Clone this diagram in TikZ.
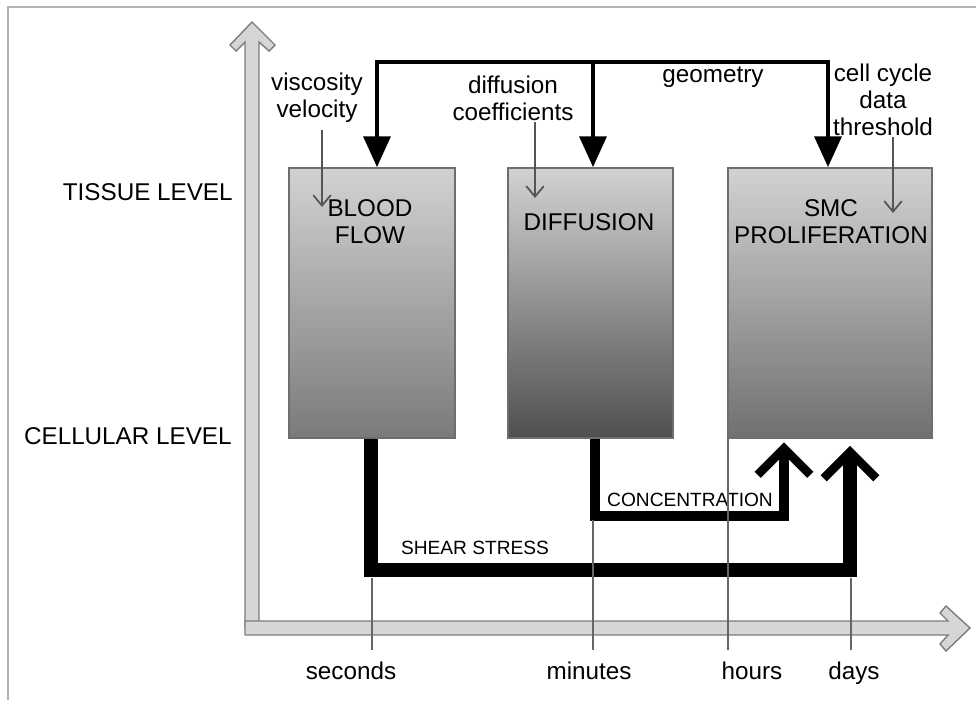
\documentclass[tikz,border=0pt]{standalone}
\usepackage{fontspec}
\setmainfont{Liberation Sans}
\usetikzlibrary{arrows.meta, positioning}

\definecolor{axisfill}{HTML}{D6D6D6}
\definecolor{axisline}{HTML}{7C7C7C}
\definecolor{boxline}{HTML}{6E6E6E}
\definecolor{boxtop}{HTML}{D2D2D2}
\definecolor{bloodbot}{HTML}{7A7A7A}
\definecolor{diffmid}{HTML}{767676}
\definecolor{diffbot}{HTML}{4F4F4F}
\definecolor{smcbot}{HTML}{707070}
\definecolor{ticks}{HTML}{666666}
\definecolor{hint}{HTML}{555555}

\tikzset{
  feedtip/.tip={Triangle[length=17.5pt,width=15pt]},
  barbtip/.tip={Straight Barb[length=15pt,width=30pt,line width=5pt]},
  hinttip/.tip={Straight Barb[length=6pt,width=10pt]},
  txt/.style={font={\fontsize{13.8}{15.5}\selectfont}, align=center, inner sep=0pt},
  smalltxt/.style={font={\fontsize{10.9}{13}\selectfont}, inner sep=0pt},
  proc/.style={draw=boxline, line width=0.9pt, minimum height=5.4cm, inner sep=0pt},
  feed/.style={line width=2.8pt},
  flux/.style={line width=#1, -barbtip},
  hintline/.style={draw=hint, line width=1pt, -hinttip},
  tick/.style={draw=ticks, line width=0.9pt}
}

\begin{document}
\begin{tikzpicture}[x=0.02cm, y=-0.02cm]
\useasboundingbox (0,0) rectangle (976,700);
\draw[gray!60, line width=0.6pt] (8,700) -- (8,7) -- (976,7);

% level and time axes
\draw[fill=axisfill, draw=axisline, line width=0.8pt, line join=miter]
  (245,628) -- (245,42) -- (236,51) -- (230,45) -- (252,22) -- (275,45)
  -- (269,51) -- (259,42) -- (259,628) -- cycle;
\draw[fill=axisfill, draw=axisline, line width=0.8pt, line join=miter]
  (245,621) -- (948,621) -- (940,613) -- (946,606) -- (970,628) -- (946,651)
  -- (940,644) -- (948,635) -- (245,635) -- cycle;
\node[txt, anchor=east] (tissue) at (233,192) {TISSUE LEVEL};
\node[txt, anchor=east] (cellular) at (232,436) {CELLULAR LEVEL};

% the three models
\node[proc, minimum width=3.32cm, top color=boxtop, bottom color=bloodbot]
  (blood) at (372,303) {};
\node[proc, minimum width=3.3cm, top color=boxtop, middle color=diffmid, bottom color=diffbot]
  (diff) at (590.5,303) {};
\node[proc, minimum width=4.08cm, top color=boxtop, bottom color=smcbot]
  (smc) at (830,303) {};
\node[txt] (bloodtxt) at (370,222) {BLOOD\\FLOW};
\node[txt] (difftxt) at (589,222) {DIFFUSION};
\node[txt] (smctxt) at (831,222) {SMC\\PROLIFERATION};

% geometry fed to every model
\coordinate (gb) at (377,62);
\coordinate (gd) at (593,62);
\coordinate (gs) at (828,62);
\draw[feed, feedtip-feedtip] (gb |- blood.north) -- (gb) -- (gs) -- (gs |- smc.north);
\draw[feed, -feedtip] (gd) -- (gd |- diff.north);
\node[txt] (geo) at (713,77) {geometry};

% model parameters
\node[txt] (visc) at (317,98) {viscosity\\velocity};
\node[txt] (coef) at (513,98) {diffusion\\coefficients};
\node[txt] (cycle) at (883,100) {cell cycle\\data\\threshold};
\draw[hintline] (322,130) -- (322,207);
\draw[hintline] (535,122) -- (535,198);
\draw[hintline] (893,137) -- (893,213);

% cellular level coupling
\coordinate (sb) at (371,570);
\coordinate (se) at (850,570);
\coordinate (cb) at (595,516);
\coordinate (ce) at (784,516);
\draw[flux=8pt] (blood.south -| sb) -- (sb) -- (se) -- ([yshift=-4pt]se |- smc.south);
\draw[flux=6.2pt] (diff.south -| cb) -- (cb) -- (ce) -- ([yshift=-2pt]ce |- smc.south);
\node[smalltxt] (shear) at (475,548) {SHEAR STRESS};
\node[smalltxt] (conc) at (690,500) {CONCENTRATION};

% time scales
\coordinate (tsec) at (372,578);
\coordinate (tmin) at (593,520);
\coordinate (thour) at (728,438);
\coordinate (tday) at (851,578);
\foreach \t in {tsec, tmin, thour, tday} {
  \draw[tick] (\t) -- (\t |- 0,650);
};
\node[txt, anchor=base] (sec) at (351,679) {seconds};
\node[txt, anchor=base] (min) at (589,679) {minutes};
\node[txt, anchor=base] (hour) at (752,679) {hours};
\node[txt, anchor=base] (day) at (854,679) {days};
\end{tikzpicture}
\end{document}
